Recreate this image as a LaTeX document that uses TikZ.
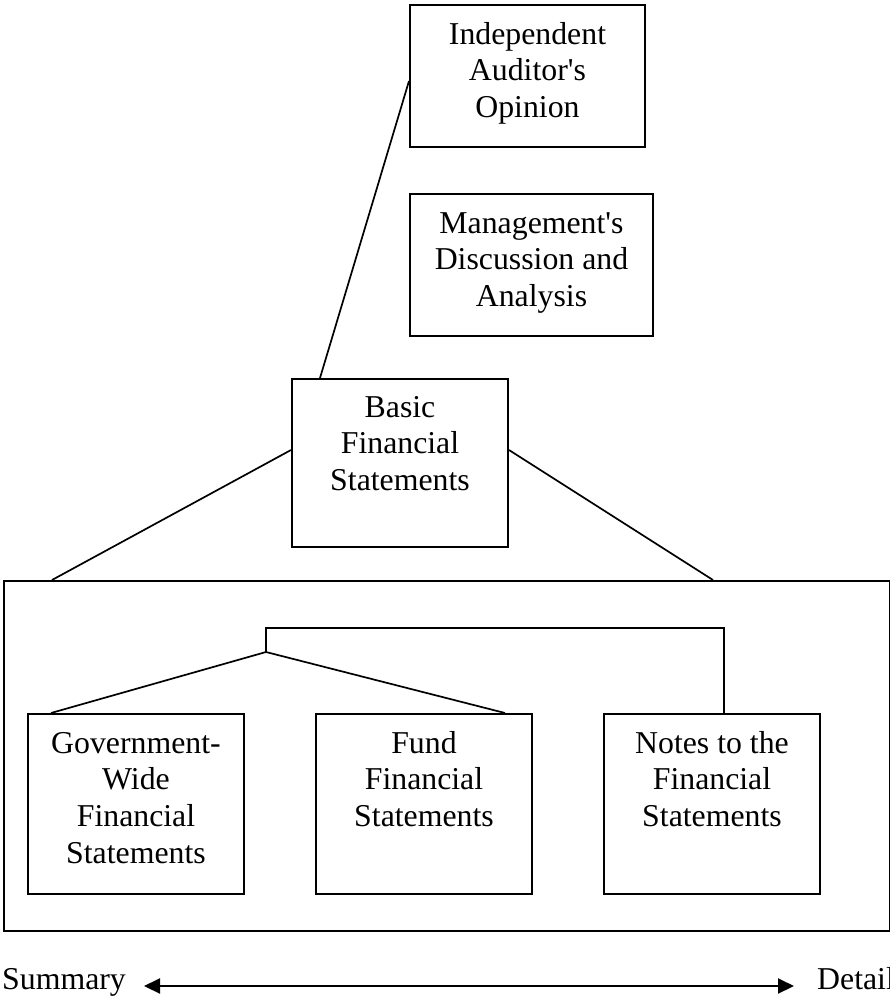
\documentclass[tikz,border=0pt]{standalone}
\usepackage{fontspec}
\setmainfont{Liberation Serif}[Ligatures=TeXOff]
\usetikzlibrary{arrows.meta}
\newcommand{\toprl}{\rule{0pt}{22pt}}
\begin{document}
\begin{tikzpicture}[x=1pt,y=-1pt,
  box/.style={draw, line width=2pt, inner sep=0pt, anchor=north west},
  lbl/.style={anchor=north, align=center, inner sep=0pt, font=\fontsize{31.8}{36.6}\selectfont},
  plain/.style={inner sep=0pt, font=\fontsize{31.8}{36.6}\selectfont},
  conn/.style={line width=1.7pt},
  tip/.style={Triangle[length=16pt,width=14pt]}]
\useasboundingbox (0,0) rectangle (890,999);
% boxes
\node[box, minimum width=235pt, minimum height=142pt] (aud) at (409,4) {};
\node[box, minimum width=243pt, minimum height=142pt] (mda) at (409,193) {};
\node[box, minimum width=216pt, minimum height=168pt] (bfs) at (291,378) {};
\node[box, line width=1.7pt, minimum width=886pt, minimum height=350pt] (outer) at (3,580) {};
\node[box, minimum width=216pt, minimum height=180pt] (gov) at (27,713) {};
\node[box, minimum width=216pt, minimum height=180pt] (fund) at (315,713) {};
\node[box, minimum width=216pt, minimum height=180pt] (notes) at (603,713) {};
% texts
\node[lbl] (audt) at ([yshift=-18pt]aud.north) {\toprl Independent\\Auditor's\\Opinion};
\node[lbl] (mdat) at ([yshift=-18pt]mda.north) {\toprl Management's\\Discussion and\\Analysis};
\node[lbl] (bfst) at ([yshift=-17pt]bfs.north) {\toprl Basic\\Financial\\Statements};
\node[lbl] (govt) at ([yshift=-18pt]gov.north) {\toprl Government-\\Wide\\Financial\\Statements};
\node[lbl] (fundt) at ([yshift=-18pt]fund.north) {\toprl Fund\\Financial\\Statements};
\node[lbl] (notest) at ([yshift=-18pt]notes.north) {\toprl Notes to the\\Financial\\Statements};
% connectors
\draw[conn] ([xshift=29pt]bfs.north west) -- ([yshift=-5pt]aud.west);
\draw[conn] ([yshift=13pt]bfs.west) -- ([xshift=49pt]outer.north west);
\draw[conn] ([yshift=13pt]bfs.east) -- ([xshift=710pt]outer.north west);
\coordinate (j) at (266,652);
\coordinate (bt) at (266,628);
\draw[conn] (j) -- (bt) -| ([xshift=12pt]notes.north);
\draw[conn] ([xshift=24pt]gov.north west) -- (j) -- ([xshift=190pt]fund.north west);
% summary / detail
\node[plain, anchor=base west] (sum) at (2,989) {Summary};
\node[plain, anchor=base west] (det) at (817,989) {Detail};
\coordinate (al) at (144,986);
\coordinate (ar) at (794,986);
\draw[line width=2pt, {Triangle[length=16pt,width=15pt]}-{Triangle[length=16pt,width=15pt]}] (al) -- (ar);
\end{tikzpicture}
\end{document}
